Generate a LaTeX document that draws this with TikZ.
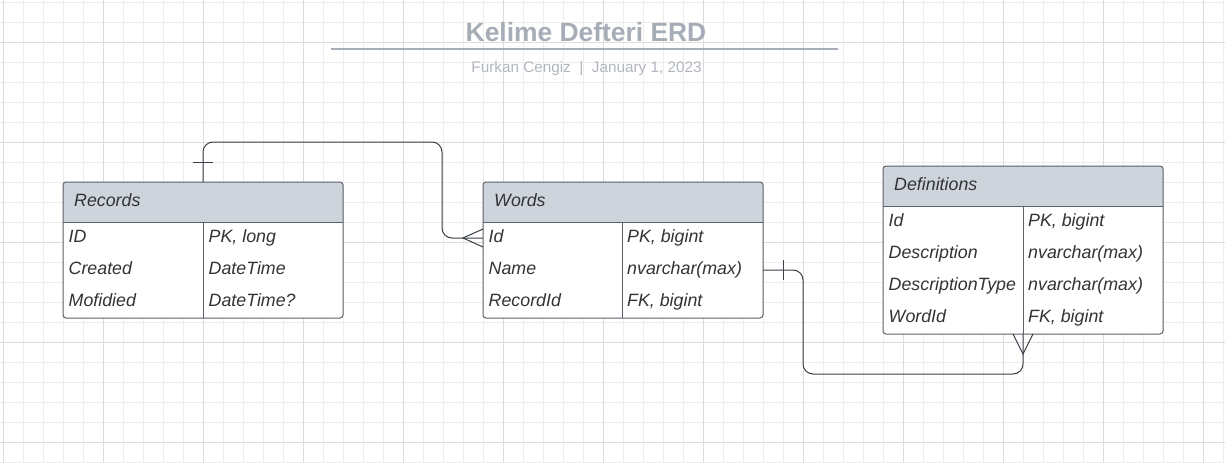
\documentclass[tikz,border=0pt]{standalone}
\usepackage{fontspec}
\setmainfont{Liberation Sans}

\definecolor{gridminor}{HTML}{EDEDED}
\definecolor{gridmajor}{HTML}{DCDCDC}
\definecolor{titlegray}{HTML}{A7ADB6}
\definecolor{subgray}{HTML}{B2B7BF}
\definecolor{headfill}{HTML}{CED4DC}
\definecolor{boxline}{HTML}{5C6068}
\definecolor{celltext}{HTML}{333333}
\definecolor{relline}{HTML}{3A4048}

\begin{document}
\begin{tikzpicture}[x=1pt, y=-1pt,
  tbl/.style={fill=white, rounded corners=3pt, anchor=north west, minimum width=280pt, inner sep=0pt, outer sep=0pt},
  tblline/.style={draw=boxline, line width=1pt},
  row/.style={minimum width=280pt, minimum height=32pt, inner sep=0pt, outer sep=0pt, anchor=north west},
  cell/.style={anchor=base west, inner sep=0pt, text=celltext, font=\fontsize{17.8}{20}\selectfont\itshape},
  rel/.style={draw=relline, line width=1pt}]
\useasboundingbox (0,0) rectangle (1225,463);
\fill [white] (0,0) rectangle (1225,463);

% grid
\foreach \x in {3,23,...,1223} \draw [gridminor] (\x,0) -- (\x,463);
\foreach \y in {2,22,...,462} \draw [gridminor] (0,\y) -- (1225,\y);
\foreach \x in {3,103,...,1203} \draw [gridmajor] (\x,0) -- (\x,463);
\foreach \y in {42,142,...,442} \draw [gridmajor] (0,\y) -- (1225,\y);

% title
\node [anchor=base, text=titlegray, font=\fontsize{26.4}{30}\selectfont\bfseries] (title) at (586,41) {Kelime Defteri ERD};
\draw [titlegray, line width=2pt] (331,49) -- (838,49);
\node [anchor=base, text=subgray, font=\fontsize{15.3}{18}\selectfont] (byline) at (586.5,72) {Furkan Cengiz\ \ |\ \ January 1, 2023};

% Records
\node [tbl, minimum height=136pt] (records) at (63,182) {};
\begin{scope}
\clip [rounded corners=3pt] (records.north west) rectangle (records.south east);
\fill [headfill] (records.north west) rectangle ([yshift=-40pt]records.north east);
\end{scope}
\draw [tblline, rounded corners=3pt] (records.north west) rectangle (records.south east);
\draw [tblline] ([yshift=-40pt]records.north west) -- ([yshift=-40pt]records.north east);
\draw [tblline] ([yshift=-40pt]records.north) -- (records.south);
\node [cell] (recordshead) at (74,206) {Records};
\node [cell] (recid) at (68.5,242) {ID};
\node [cell] (recidtype) at (208.5,242) {PK, long};
\node [cell] (reccreated) at (68.5,274) {Created};
\node [cell] (reccreatedtype) at (208.5,274) {DateTime};
\node [cell] (recmodified) at (68.5,306) {Mofidied};
\node [cell] (recmodifiedtype) at (208.5,306) {DateTime?};

% Words
\node [tbl, minimum height=136pt] (words) at (483,182) {};
\begin{scope}
\clip [rounded corners=3pt] (words.north west) rectangle (words.south east);
\fill [headfill] (words.north west) rectangle ([yshift=-40pt]words.north east);
\end{scope}
\draw [tblline, rounded corners=3pt] (words.north west) rectangle (words.south east);
\draw [tblline] ([yshift=-40pt]words.north west) -- ([yshift=-40pt]words.north east);
\draw [tblline] ([yshift=-40pt, xshift=-1pt]words.north) -- ([xshift=-1pt]words.south);
\node [row] (wordsid) at (483,222) {};
\node [row] (wordsname) at (483,254) {};
\node [cell] (wordshead) at (494,206) {Words};
\node [cell] (wid) at (488.5,242) {Id};
\node [cell] (widtype) at (627,242) {PK, bigint};
\node [cell] (wname) at (488.5,274) {Name};
\node [cell] (wnametype) at (627,274) {nvarchar(max)};
\node [cell] (wrecord) at (488.5,306) {RecordId};
\node [cell] (wrecordtype) at (627,306) {FK, bigint};

% Definitions
\node [tbl, minimum height=168pt] (defs) at (883,166) {};
\begin{scope}
\clip [rounded corners=3pt] (defs.north west) rectangle (defs.south east);
\fill [headfill] (defs.north west) rectangle ([yshift=-40pt]defs.north east);
\end{scope}
\draw [tblline, rounded corners=3pt] (defs.north west) rectangle (defs.south east);
\draw [tblline] ([yshift=-40pt]defs.north west) -- ([yshift=-40pt]defs.north east);
\draw [tblline] ([yshift=-40pt]defs.north) -- (defs.south);
\node [cell] (defshead) at (894,190) {Definitions};
\node [cell] (did) at (888.5,226) {Id};
\node [cell] (didtype) at (1028,226) {PK, bigint};
\node [cell] (ddesc) at (888.5,258) {Description};
\node [cell] (ddesctype) at (1028,258) {nvarchar(max)};
\node [cell] (dtype) at (888.5,290) {DescriptionType};
\node [cell] (dtypetype) at (1028,290) {nvarchar(max)};
\node [cell] (dword) at (888.5,322) {WordId};
\node [cell] (dwordtype) at (1028,322) {FK, bigint};

% Records 1 -- n Words
\coordinate (bendA) at (442,142);
\draw [rel, rounded corners=10pt] (records.north) |- (bendA) |- (wordsid.west);
\draw [rel] ([xshift=-10pt, yshift=20pt]records.north) -- ([xshift=10pt, yshift=20pt]records.north);
\draw [rel] ([yshift=9pt]wordsid.west) -- ([xshift=-20pt]wordsid.west) -- ([yshift=-9pt]wordsid.west);

% Words 1 -- n Definitions
\coordinate (bendB) at (803,374);
\draw [rel, rounded corners=10pt] (wordsname.east) -| (bendB) -| (defs.south);
\draw [rel] ([xshift=20pt, yshift=10pt]wordsname.east) -- ([xshift=20pt, yshift=-10pt]wordsname.east);
\draw [rel] ([xshift=-10pt]defs.south) -- ([yshift=-20pt]defs.south) -- ([xshift=10pt]defs.south);
\end{tikzpicture}
\end{document}
